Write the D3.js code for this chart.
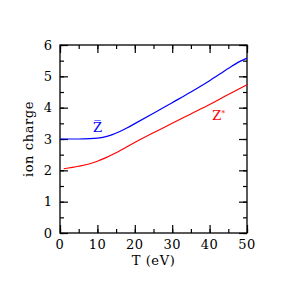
<!DOCTYPE html>
<html>
<head>
<meta charset="utf-8">
<script src="https://cdn.jsdelivr.net/npm/d3@7"></script>
<style>
  body { margin: 0; background: #fff; }
</style>
</head>
<body>
<div id="chart"></div>
<script>
// Mean ion charge vs temperature
const temps = [0, 5, 8, 10, 12, 14, 16, 18, 20, 25, 30, 35, 40, 45, 48, 50];
const zBar  = [3.0, 3.0, 3.01, 3.03, 3.07, 3.14, 3.24, 3.36, 3.49, 3.82, 4.16, 4.5, 4.86, 5.25, 5.47, 5.58];
const redT  = [1, 5, 8, 10, 12, 15, 20, 25, 30, 35, 40, 45, 50];
const zStar = [2.05, 2.13, 2.21, 2.29, 2.39, 2.56, 2.89, 3.2, 3.5, 3.8, 4.1, 4.42, 4.73];
const xTicks = [0, 10, 20, 30, 40, 50];
const yTicks = [0, 1, 2, 3, 4, 5, 6];

const W = 294, H = 285;
const margin = { top: 45, right: 47, bottom: 52, left: 60 };
const width = W - margin.left - margin.right,
      height = H - margin.top - margin.bottom;
const FONT = "'DejaVu Serif', 'Liberation Serif', serif";

const svg = d3.select("#chart").append("svg")
  .attr("width", W).attr("height", H)
  .attr("font-family", FONT);
const g = svg.append("g")
  .attr("transform", `translate(${margin.left},${margin.top})`);

const x = d3.scaleLinear().domain([0, 50]).range([0, width]);
const y = d3.scaleLinear().domain([0, 6]).range([height, 0]);

// Ticks pointing inwards on all four sides
function tickAxis(axis, scale, values, size) {
  return axis(scale).tickValues(values).tickSize(size).tickFormat("");
}
const minorX = d3.range(0, 51, 5), minorY = d3.range(0, 6.01, 0.5);

g.append("g").attr("transform", `translate(0,${height})`).call(tickAxis(d3.axisTop, x, minorX, 4));
g.append("g").attr("transform", `translate(0,${height})`).call(tickAxis(d3.axisTop, x, xTicks, 8));
g.append("g").call(tickAxis(d3.axisBottom, x, minorX, 4));
g.append("g").call(tickAxis(d3.axisBottom, x, xTicks, 8));
g.append("g").call(tickAxis(d3.axisRight, y, minorY, 4));
g.append("g").call(tickAxis(d3.axisRight, y, yTicks, 8));
g.append("g").attr("transform", `translate(${width},0)`).call(tickAxis(d3.axisLeft, y, minorY, 4));
g.append("g").attr("transform", `translate(${width},0)`).call(tickAxis(d3.axisLeft, y, yTicks, 8));
g.selectAll(".domain").remove();
g.selectAll(".tick line").attr("stroke", "#000").attr("stroke-width", 1.2);

g.append("rect")
  .attr("width", width).attr("height", height)
  .attr("fill", "none").attr("stroke", "#000").attr("stroke-width", 1.3);

// Tick labels
g.selectAll(".xlab").data(xTicks).enter().append("text")
  .attr("x", d => x(d)).attr("y", height + 16)
  .attr("text-anchor", "middle").attr("font-family", FONT)
  .style("font-size", "13px").style("letter-spacing", "0.5px").text(d => d);
g.selectAll(".ylab").data(yTicks).enter().append("text")
  .attr("x", -8).attr("y", d => y(d) + 4.5)
  .attr("text-anchor", "end").attr("font-family", FONT)
  .style("font-size", "13px").text(d => d);

// Axis titles
g.append("text")
  .attr("x", width / 2).attr("y", height + 32)
  .attr("text-anchor", "middle").attr("font-family", FONT)
  .style("font-size", "13px").style("letter-spacing", "0.6px").text("T (eV)");
g.append("text")
  .attr("transform", `translate(-27,${height / 2}) rotate(-90)`)
  .attr("text-anchor", "middle").attr("font-family", FONT)
  .style("font-size", "13px").style("letter-spacing", "0.6px").text("ion charge");

// Curves
const line = d3.line().curve(d3.curveMonotoneX);
g.append("path")
  .attr("d", line(temps.map((t, i) => [x(t), y(zBar[i])])))
  .attr("fill", "none").attr("stroke", "#0000ff").attr("stroke-width", 1.2);
g.append("path")
  .attr("d", line(redT.map((t, i) => [x(t), y(zStar[i])])))
  .attr("fill", "none").attr("stroke", "#ff0000").attr("stroke-width", 1.2);

// Curve labels
g.append("text")
  .attr("x", x(10)).attr("y", y(3.25) + 1)
  .attr("text-anchor", "middle").attr("fill", "#0000ff").attr("font-family", FONT)
  .style("font-size", "13px").text("Z\u0305");
const zs = g.append("text")
  .attr("x", x(40.7)).attr("y", y(3.8) + 6)
  .attr("fill", "#ff0000").attr("font-family", FONT).style("font-size", "13px");
zs.append("tspan").text("Z");
zs.append("tspan").attr("dy", -4).style("font-size", "8px").text("*");
</script>
</body>
</html>
